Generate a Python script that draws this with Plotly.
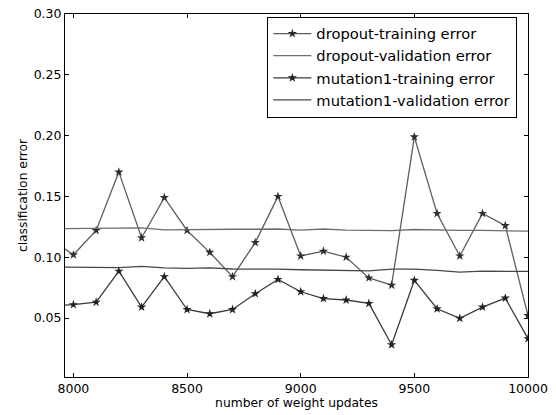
import plotly.graph_objects as go

updates = [7900, 8000, 8100, 8200, 8300, 8400, 8500, 8600, 8700, 8800, 8900,
           9000, 9100, 9200, 9300, 9400, 9500, 9600, 9700, 9800, 9900, 10000]

dropout_train = [0.115, 0.102, 0.122, 0.170, 0.116, 0.149, 0.122, 0.104, 0.084, 0.112, 0.150,
                 0.101, 0.105, 0.100, 0.083, 0.077, 0.199, 0.136, 0.101, 0.136, 0.126, 0.052]
dropout_val = [0.1233, 0.1235, 0.1240, 0.1240, 0.1242, 0.1225, 0.1228, 0.1228, 0.1230, 0.1230, 0.1232,
               0.1222, 0.1232, 0.1222, 0.1222, 0.1218, 0.1228, 0.1222, 0.1220, 0.1220, 0.1218, 0.1215]
mutation_train = [0.060, 0.061, 0.063, 0.0885, 0.059, 0.084, 0.057, 0.0535, 0.057, 0.070, 0.0817,
                  0.0716, 0.066, 0.0648, 0.062, 0.028, 0.081, 0.0576, 0.0497, 0.059, 0.0664, 0.033]
mutation_val = [0.0920, 0.0918, 0.0912, 0.0915, 0.0925, 0.0912, 0.0908, 0.0912, 0.0903, 0.0905, 0.0902,
                0.0897, 0.0893, 0.0887, 0.0888, 0.0902, 0.0902, 0.0892, 0.0877, 0.0885, 0.0885, 0.0883]

x_ticks = [8000, 8500, 9000, 9500, 10000]
x_tick_labels = ["8000", "8500", "9000", "9500", "10000"]
y_ticks = [0.05, 0.10, 0.15, 0.20, 0.25, 0.30]
y_tick_labels = ["0.05", "0.10", "0.15", "0.20", "0.25", "0.30"]

FONT = "DejaVu Sans"

fig = go.Figure()
fig.add_trace(go.Scatter(
    x=updates, y=dropout_train, mode="lines+markers", name="dropout-training error",
    line=dict(color="#5e5e5e", width=1.3),
    marker=dict(symbol="star", size=7, color="#2e2e2e", line=dict(width=0))))
fig.add_trace(go.Scatter(
    x=updates, y=dropout_val, mode="lines", name="dropout-validation error",
    line=dict(color="#6e6e6e", width=1.3)))
fig.add_trace(go.Scatter(
    x=updates, y=mutation_train, mode="lines+markers", name="mutation1-training error",
    line=dict(color="#3a3a3a", width=1.3),
    marker=dict(symbol="star", size=7, color="#222222", line=dict(width=0))))
fig.add_trace(go.Scatter(
    x=updates, y=mutation_val, mode="lines", name="mutation1-validation error",
    line=dict(color="#474747", width=1.3)))

axis_common = dict(
    showline=True, linecolor="black", linewidth=1, mirror="ticks",
    ticks="inside", ticklen=4, tickcolor="black", tickwidth=1,
    showgrid=False, zeroline=False, automargin=False,
    tickfont=dict(family=FONT, size=12.5, color="black"),
)

fig.update_xaxes(range=[7963, 10000], tickvals=x_ticks, ticktext=x_tick_labels,
                 title=dict(text="number of weight updates", standoff=3,
                            font=dict(family=FONT, size=12.3, color="black")),
                 **axis_common)
fig.update_yaxes(range=[0.0015, 0.30], tickvals=y_ticks, ticktext=y_tick_labels,
                 title=dict(text="classification error", standoff=3,
                            font=dict(family=FONT, size=12.3, color="black")),
                 **axis_common)

fig.update_layout(
    width=556, height=415,
    margin=dict(l=65, r=28, t=14, b=38),
    paper_bgcolor="white", plot_bgcolor="white",
    font=dict(family=FONT, size=12, color="black"),
    legend=dict(x=0.977, y=0.993, xanchor="right", yanchor="top",
                bordercolor="black", borderwidth=1, bgcolor="white",
                itemwidth=38,
                font=dict(family=FONT, size=14.7, color="black")),
)

fig.write_html("out.html",
               config={"displayModeBar": False},
               post_script="document.body.style.margin='0';document.body.style.overflow='hidden';")
